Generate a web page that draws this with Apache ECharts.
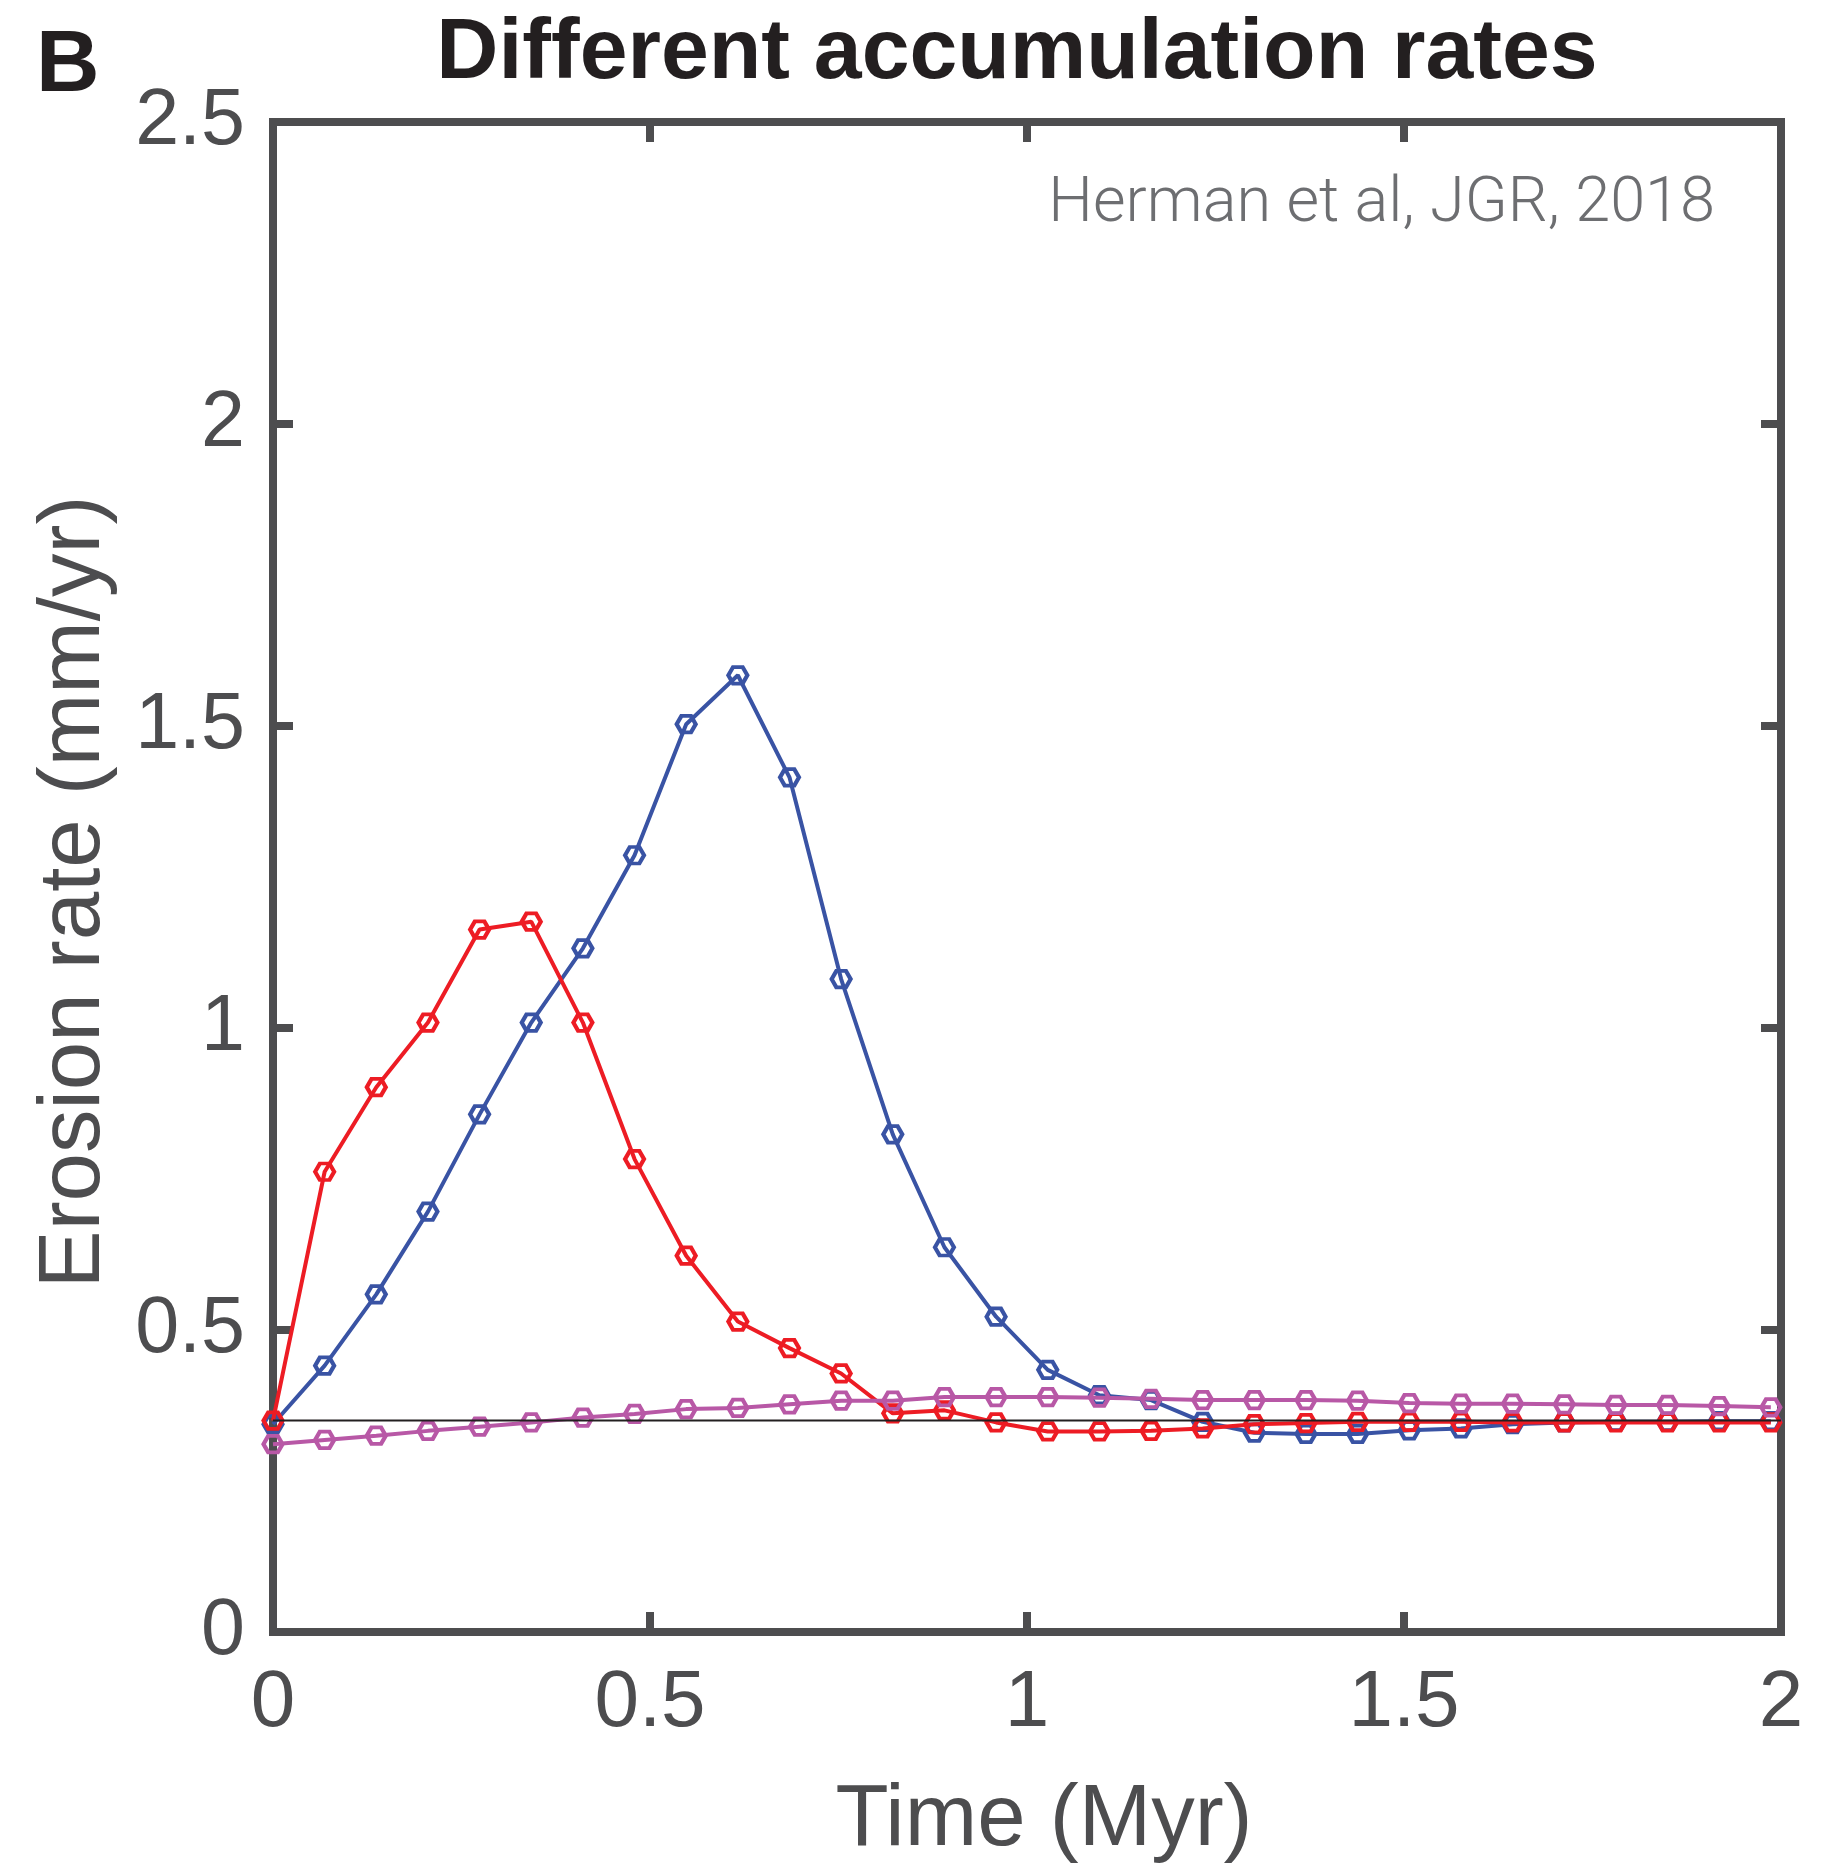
<!DOCTYPE html>
<html>
<head>
<meta charset="utf-8">
<script src="https://cdn.jsdelivr.net/npm/echarts@6/dist/echarts.min.js"></script>
<style>
html,body{margin:0;padding:0;background:#fff;}
#chart{width:1828px;height:1865px;}
</style>
</head>
<body>
<div id="chart"></div>
<script>
// Time (Myr) of each model step
var timeMyr = [0, 0.0685, 0.137, 0.2055, 0.274, 0.3425, 0.411, 0.4795, 0.548, 0.6165,
  0.685, 0.7535, 0.822, 0.8905, 0.959, 1.0275, 1.096, 1.1645, 1.233, 1.3015,
  1.37, 1.4385, 1.507, 1.5755, 1.644, 1.7125, 1.781, 1.8495, 1.918, 1.9865];
// Erosion rate (mm/yr)
var blueRate = [0.344, 0.441, 0.559, 0.696, 0.857, 1.009, 1.132, 1.286, 1.503, 1.584,
  1.415, 1.081, 0.824, 0.637, 0.522, 0.434, 0.392, 0.384, 0.348, 0.330,
  0.328, 0.328, 0.334, 0.337, 0.344, 0.347, 0.348, 0.348, 0.349, 0.349];
var redRate = [0.350, 0.762, 0.902, 1.009, 1.163, 1.176, 1.009, 0.783, 0.623, 0.514,
  0.470, 0.428, 0.362, 0.367, 0.347, 0.332, 0.332, 0.333, 0.337, 0.344,
  0.346, 0.348, 0.348, 0.348, 0.347, 0.347, 0.347, 0.347, 0.347, 0.347];
var pinkRate = [0.311, 0.318, 0.325, 0.333, 0.340, 0.347, 0.355, 0.361, 0.369, 0.371,
  0.377, 0.383, 0.383, 0.389, 0.389, 0.389, 0.388, 0.386, 0.384, 0.384,
  0.384, 0.383, 0.379, 0.378, 0.378, 0.377, 0.376, 0.376, 0.374, 0.372];
var refTime = [0, 2];
var refRate = [0.35, 0.35];
var xTicks = ['0', '0.5', '1', '1.5', '2'];
var yTicks = ['0', '0.5', '1', '1.5', '2', '2.5'];

function pairs(xs, ys) { return xs.map(function (x, i) { return [x, ys[i]]; }); }

var FRAME = '#4d4d4f';
var FONT = '"Liberation Sans", Arial, Helvetica, sans-serif';
var hex = 'path://M0,8.66 L5,0 L15,0 L20,8.66 L15,17.32 L5,17.32 Z';

function dataSeries(name, ys, color, z) {
  return {
    name: name, type: 'line', data: pairs(timeMyr, ys), z: z,
    clip: false, animation: false,
    lineStyle: { color: color, width: 4 },
    symbol: hex, symbolSize: [19, 16.5], showAllSymbol: true,
    itemStyle: { color: 'rgba(255,255,255,0)', borderColor: color, borderWidth: 4 }
  };
}

function tick() { return { show: true, inside: true, length: 20, lineStyle: { color: FRAME, width: 8 } }; }
function noLine() { return { show: false, onZero: false }; }

var chart = echarts.init(document.getElementById('chart'), null, { renderer: 'canvas' });
chart.setOption({
  backgroundColor: '#fff',
  animation: false,
  grid: { left: 273, right: 47, top: 122, bottom: 233, show: true,
          borderColor: FRAME, borderWidth: 8, backgroundColor: 'rgba(0,0,0,0)' },
  xAxis: [{
    type: 'value', min: 0, max: 2, interval: 0.5, position: 'bottom',
    axisLine: noLine(), splitLine: { show: false }, axisTick: tick(),
    axisLabel: { color: FRAME, fontSize: 80, fontFamily: FONT, margin: 32,
      formatter: function (v) { return xTicks[Math.round(v / 0.5)]; } }
  }, {
    type: 'value', min: 0, max: 2, interval: 0.5, position: 'top',
    axisLine: noLine(), splitLine: { show: false }, axisTick: tick(),
    axisLabel: { show: false }
  }],
  yAxis: [{
    type: 'value', min: 0, max: 2.5, interval: 0.5, position: 'left',
    axisLine: noLine(), splitLine: { show: false }, axisTick: tick(),
    axisLabel: { color: FRAME, fontSize: 79, fontFamily: FONT, margin: 28, padding: [6, 0, 0, 0],
      formatter: function (v) { return yTicks[Math.round(v / 0.5)]; } }
  }, {
    type: 'value', min: 0, max: 2.5, interval: 0.5, position: 'right',
    axisLine: noLine(), splitLine: { show: false }, axisTick: tick(),
    axisLabel: { show: false }
  }],
  graphic: [
    { type: 'text', x: 36, y: 67, z: 100,
      style: { text: 'B', fontSize: 88, fontWeight: 'bold', fontFamily: FONT, fill: '#231f20',
               align: 'left', verticalAlign: 'middle' } },
    { type: 'text', x: 1017, y: 54, z: 100,
      style: { text: 'Different accumulation rates', fontSize: 86, fontWeight: 'bold', fontFamily: FONT,
               fill: '#231f20', align: 'center', verticalAlign: 'middle' } },
    { type: 'text', x: 1715, y: 205, z: 100,
      style: { text: 'Herman et al, JGR, 2018', fontSize: 63, fontWeight: 300,
               fontFamily: 'Roboto, "Liberation Sans", sans-serif',
               fill: '#6d6e71', align: 'right', verticalAlign: 'middle' } },
    { type: 'text', x: 75, y: 892, rotation: Math.PI / 2, z: 100,
      style: { text: 'Erosion rate (mm/yr)', fontSize: 87, fontFamily: FONT, fill: FRAME,
               align: 'center', verticalAlign: 'middle' } },
    { type: 'text', x: 1044, y: 1821, z: 100,
      style: { text: 'Time (Myr)', fontSize: 87, fontFamily: FONT, fill: FRAME,
               align: 'center', verticalAlign: 'middle' } }
  ],
  series: [
    dataSeries('blue', blueRate, '#3953a4', 3),
    dataSeries('red', redRate, '#ed1c24', 4),
    dataSeries('pink', pinkRate, '#b858a6', 5),
    { name: 'ref', type: 'line', data: pairs(refTime, refRate), z: 6, symbol: 'none',
      lineStyle: { color: '#231f20', width: 2 }, animation: false }
  ]
});
</script>
</body>
</html>
